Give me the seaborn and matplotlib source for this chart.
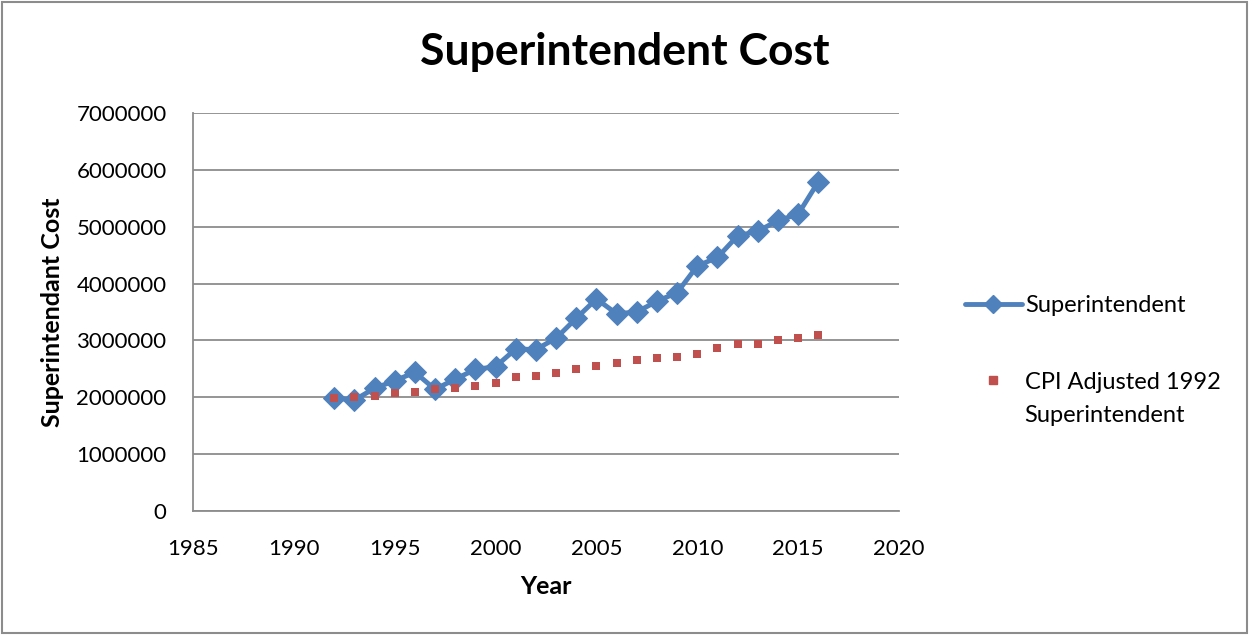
import matplotlib
matplotlib.use("Agg")
import matplotlib.pyplot as plt
import seaborn as sns
import pandas as pd
from matplotlib.lines import Line2D
from matplotlib.patches import Rectangle

years = list(range(1992, 2017))
superintendent = [1990000, 1950000, 2160000, 2290000, 2440000, 2140000, 2320000,
                  2490000, 2540000, 2850000, 2840000, 3040000, 3390000, 3730000,
                  3470000, 3500000, 3690000, 3840000, 4310000, 4460000, 4840000,
                  4920000, 5110000, 5220000, 5790000]
cpi_adjusted = [1980000, 2010000, 2030000, 2070000, 2100000, 2150000, 2160000,
                2200000, 2250000, 2350000, 2370000, 2430000, 2490000, 2550000,
                2610000, 2660000, 2690000, 2710000, 2770000, 2860000, 2930000,
                2940000, 3010000, 3040000, 3100000]
x_ticks = [1985, 1990, 1995, 2000, 2005, 2010, 2015, 2020]
y_ticks = [0, 1000000, 2000000, 3000000, 4000000, 5000000, 6000000, 7000000]
legend_labels = ["Superintendent", "CPI Adjusted 1992", "Superintendent"]

df = pd.DataFrame({"Year": years, "Superintendent": superintendent,
                   "CPI": cpi_adjusted})

sns.set_style("white")
plt.rcParams['font.family'] = ['Lato', 'DejaVu Sans']
plt.rcParams['text.color'] = 'black'
plt.rcParams['axes.labelcolor'] = 'black'

BLUE = "#4F81BD"
RED = "#C0504D"
GRID = "#8C8C8C"

fig = plt.figure(figsize=(12.49, 6.35), dpi=100)
ax = fig.add_axes([193 / 1249, 1 - 511 / 635, (899 - 193) / 1249, (511 - 113) / 635])

sns.lineplot(data=df, x="Year", y="Superintendent", ax=ax, color=BLUE,
             linewidth=3.5, marker="D", markersize=11, markeredgecolor=BLUE,
             zorder=3)
sns.scatterplot(data=df, x="Year", y="CPI", ax=ax, color=RED, marker="s",
                s=36, edgecolor=RED, linewidth=0, zorder=4)

ax.set_xlim(1985, 2020)
ax.set_ylim(0, 7000000)
ax.set_xticks(x_ticks)
ax.set_yticks(y_ticks)
ax.set_xticklabels([str(t) for t in x_ticks])
ax.set_yticklabels([str(t) for t in y_ticks])
ax.tick_params(axis="both", labelsize=16, colors=GRID, labelcolor="black",
               length=6, width=1.2, direction="out")
ax.tick_params(axis="x", pad=14)
ax.tick_params(axis="y", pad=13)
ax.yaxis.grid(True, color=GRID, linewidth=1.3)
ax.xaxis.grid(False)
for s in ["top", "right"]:
    ax.spines[s].set_visible(False)
for s in ["left", "bottom"]:
    ax.spines[s].set_color(GRID)
    ax.spines[s].set_linewidth(1.3)

ax.set_xlabel("Year", fontsize=18, fontweight="bold", labelpad=12)
ax.set_ylabel("Superintendant Cost", fontsize=18, fontweight="bold", labelpad=9)
fig.text(625 / 1249, 1 - 52 / 635, "Superintendent Cost", fontsize=32,
         fontweight="bold", ha="center", va="center")

handles = [Line2D([0], [0], color=BLUE, linewidth=3.5, marker="D", markersize=9),
           Line2D([0], [0], color=RED, linestyle="none", marker="s", markersize=6)]
leg = fig.legend(handles, legend_labels[:2],
                 loc="center left", bbox_to_anchor=(965 / 1249, 1 - 344 / 635),
                 frameon=False, fontsize=17, handlelength=2.4, handletextpad=0.15,
                 labelspacing=2.35, borderpad=0, borderaxespad=0)
# continuation line of the second legend label
fig.text(1024.5 / 1249, 1 - 416 / 635, legend_labels[2], fontsize=17,
         ha="left", va="center")

fig.patches.append(Rectangle((0.002, 0.003), 0.996, 0.994, transform=fig.transFigure,
                             fill=False, edgecolor=GRID, linewidth=1.5))

fig.savefig("out.png", dpi=100, facecolor="white")
